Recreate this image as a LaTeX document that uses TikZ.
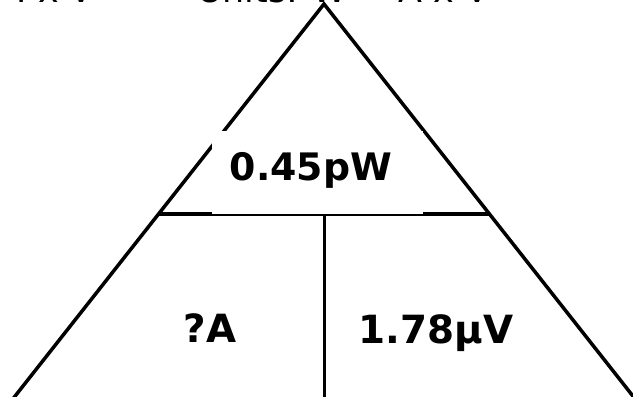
\documentclass[tikz,border=0pt]{standalone}
\usepackage{fontspec}
\setmainfont{DejaVu Sans}
\usepackage{tikz}
\usetikzlibrary{positioning}
\tikzset{
  edge/.style={line width=3.5bp, line cap=butt, line join=miter},
  value/.style={font=\fontsize{38}{40}\selectfont\bfseries, inner sep=0pt, anchor=base},
  formula/.style={font=\fontsize{35}{36}\selectfont, inner sep=0pt},
}

\begin{document}
\begin{tikzpicture}[x=1bp, y=-1bp]
  \useasboundingbox (0,0) rectangle (633,396);
  % corners of the triangle
  \coordinate (apex) at (324,4);
  \coordinate (bl) at (12,400);
  \coordinate (br) at (636,400);
  \coordinate (ml) at (158.5,214);
  \coordinate (mr) at (489.5,214);
  \coordinate (mid) at (324.5,214);
  \coordinate (bm) at (324.5,400);
  \draw[edge] (bl) -- (apex) -- (br);
  \draw[edge] (ml) -- (mr);
  \draw[edge] (mid) -- (bm);
  % white patch behind the top value
  \fill[white] (212,131) rectangle (423,214);
  \node[value] (power) at (311,180) {0.45pW};
  \node[value, font=\fontsize{39}{40}\selectfont\bfseries] (current) at (210,342) {?A};
  \node[value, font=\fontsize{39}{40}\selectfont\bfseries] (voltage) at (436,343) {1.78μV};
  % formula line, mostly above the page
  \node[formula, anchor=base east] (rule) at (94,2) {P = I x V};
  \node[formula, anchor=base west] (units) at (197,2) {Units: W = A x V};
\end{tikzpicture}
\end{document}
